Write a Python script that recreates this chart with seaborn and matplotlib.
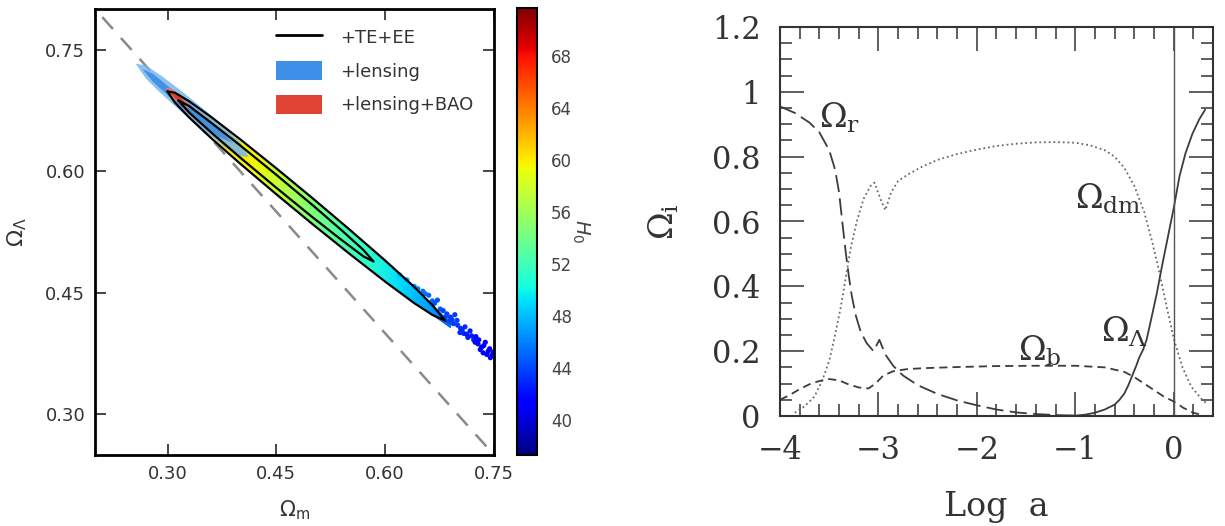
import numpy as np
import matplotlib
matplotlib.use("Agg")
import matplotlib.pyplot as plt
from matplotlib.lines import Line2D
from matplotlib.patches import Patch
import seaborn as sns

# ---------------- left panel data ----------------
flat_om = [0.21, 0.75]
flat_ol = [0.79, 0.25]

# coloured sample band, H0 along the degeneracy
band_om = [0.30, 0.34, 0.38, 0.42, 0.46, 0.50, 0.54, 0.58, 0.62, 0.66, 0.69]
band_ol = [0.698, 0.669, 0.639, 0.610, 0.580, 0.551, 0.521, 0.492, 0.462, 0.433, 0.410]
band_half = [0.004, 0.008, 0.011, 0.013, 0.014, 0.014, 0.013, 0.012, 0.010, 0.007, 0.003]
band_h0 = [64, 62, 60.5, 59.5, 57, 54.5, 52.5, 51, 49, 47, 45]

# scattered tail of samples
tail_om = [0.620, 0.630, 0.640, 0.645, 0.652, 0.655, 0.660, 0.665, 0.668, 0.672, 0.676,
           0.680, 0.683, 0.685, 0.688, 0.690, 0.692, 0.694, 0.696, 0.699, 0.700, 0.703,
           0.704, 0.706, 0.708, 0.710, 0.712, 0.714, 0.717, 0.719, 0.722, 0.724, 0.725,
           0.728, 0.729, 0.731, 0.733, 0.735, 0.736, 0.738, 0.740, 0.742, 0.744, 0.745,
           0.747, 0.749]
tail_ol = [0.472, 0.466, 0.458, 0.455, 0.452, 0.449, 0.447, 0.440, 0.437, 0.441, 0.430,
           0.428, 0.420, 0.424, 0.415, 0.420, 0.417, 0.412, 0.423, 0.416, 0.410, 0.401,
           0.406, 0.404, 0.400, 0.408, 0.399, 0.395, 0.403, 0.397, 0.392, 0.389, 0.396,
           0.387, 0.392, 0.380, 0.383, 0.376, 0.385, 0.389, 0.374, 0.378, 0.381, 0.370,
           0.373, 0.377]
tail_h0 = [48, 47.5, 46.5, 46, 45.5, 45.5, 45, 45, 44.5, 44.5, 44.5,
           44, 44, 44, 44, 43.5, 43.5, 43.5, 43.5, 43.5, 43.5, 43,
           43, 43, 43, 43, 42.5, 42.5, 42.5, 42.5, 42.5, 42, 42,
           42, 42, 42, 41.5, 41.5, 41.5, 41.5, 41.5, 41, 41, 41,
           41, 41]

# +TE+EE contours (upper / lower edge)
outer_om = [0.300, 0.31, 0.33, 0.36, 0.40, 0.45, 0.50, 0.55, 0.60, 0.64, 0.665, 0.683]
outer_hi = [0.6982, 0.6968, 0.6861, 0.6669, 0.6394, 0.6035, 0.5666, 0.5287, 0.4898, 0.4573, 0.4348, 0.4155]
outer_lo = [0.6982, 0.6848, 0.6661, 0.6409, 0.6094, 0.5715, 0.5346, 0.4987, 0.4638, 0.4373, 0.4228, 0.4155]
inner_om = [0.315, 0.33, 0.36, 0.40, 0.45, 0.50, 0.54, 0.57, 0.584]
inner_hi = [0.6871, 0.6801, 0.6599, 0.6319, 0.5955, 0.5581, 0.5271, 0.5029, 0.4886]
inner_lo = [0.6871, 0.6721, 0.6479, 0.6169, 0.5795, 0.5431, 0.5151, 0.4949, 0.4886]

# +lensing contours
lens_om = [0.256, 0.27, 0.29, 0.32, 0.35, 0.38, 0.40, 0.412]
lens_hi = [0.7327, 0.7303, 0.7186, 0.6984, 0.6763, 0.6532, 0.6354, 0.6176]
lens_lo = [0.7327, 0.7143, 0.6966, 0.6724, 0.6503, 0.6292, 0.6184, 0.6176]
lens_in_om = [0.265, 0.28, 0.31, 0.34, 0.37, 0.39]
lens_in_hi = [0.7261, 0.7200, 0.6979, 0.6757, 0.6526, 0.6348]
lens_in_lo = [0.7261, 0.7100, 0.6859, 0.6637, 0.6426, 0.6348]

# +lensing+BAO contours
bao_om = [0.297, 0.305, 0.315, 0.325, 0.333]
bao_hi = [0.7030, 0.7021, 0.6957, 0.6864, 0.6765]
bao_lo = [0.7030, 0.6921, 0.6837, 0.6784, 0.6765]
bao_in_om = [0.300, 0.310, 0.320, 0.327]
bao_in_hi = [0.7008, 0.6964, 0.6891, 0.6809]
bao_in_lo = [0.7008, 0.6904, 0.6831, 0.6809]

h0_ticks = [40, 44, 48, 52, 56, 60, 64, 68]
h0_min, h0_max = 37.3, 71.7
left_ticks = [0.30, 0.45, 0.60, 0.75]
legend_labels = ['+TE+EE', '+lensing', '+lensing+BAO']

# ---------------- right panel data ----------------
r_x = [-4.0, -3.85, -3.70, -3.60, -3.50, -3.44, -3.40, -3.36, -3.33, -3.30, -3.27, -3.23,
       -3.18, -3.12, -3.05, -2.99, -2.93, -2.85, -2.75, -2.60, -2.40, -2.20, -2.00, -1.80,
       -1.60, -1.40, -1.20, -1.00]
r_y = [0.955, 0.935, 0.905, 0.875, 0.82, 0.76, 0.69, 0.58, 0.50, 0.43, 0.37, 0.31,
       0.26, 0.225, 0.20, 0.235, 0.19, 0.155, 0.125, 0.095, 0.068, 0.048, 0.033, 0.02,
       0.011, 0.006, 0.003, 0.001]
dm_x = [-3.85, -3.75, -3.65, -3.57, -3.50, -3.44, -3.38, -3.33, -3.28, -3.22, -3.15, -3.08,
        -3.04, -2.98, -2.93, -2.87, -2.80, -2.70, -2.55, -2.40, -2.20, -2.00, -1.80, -1.60,
        -1.40, -1.20, -1.00, -0.85, -0.70, -0.60, -0.50, -0.40, -0.30, -0.22, -0.15, -0.08,
        0.00, 0.09, 0.18, 0.29, 0.33]
dm_y = [0.01, 0.03, 0.06, 0.11, 0.17, 0.25, 0.34, 0.43, 0.52, 0.60, 0.67, 0.71,
        0.72, 0.67, 0.635, 0.69, 0.725, 0.745, 0.77, 0.79, 0.808, 0.822, 0.833, 0.84,
        0.844, 0.845, 0.843, 0.835, 0.82, 0.80, 0.765, 0.71, 0.63, 0.54, 0.45, 0.35,
        0.24, 0.15, 0.09, 0.05, 0.04]
b_x = [-4.0, -3.9, -3.8, -3.7, -3.6, -3.5, -3.4, -3.3, -3.2, -3.1, -3.03, -2.95, -2.85,
       -2.7, -2.5, -2.2, -1.8, -1.4, -1.0, -0.7, -0.5, -0.4, -0.3, -0.2, -0.1, 0.0, 0.1,
       0.2, 0.3]
b_y = [0.05, 0.065, 0.083, 0.098, 0.108, 0.114, 0.11, 0.097, 0.088, 0.085, 0.10, 0.125, 0.138,
       0.145, 0.148, 0.151, 0.154, 0.155, 0.155, 0.15, 0.136, 0.12, 0.10, 0.08, 0.06, 0.045, 0.025,
       0.01, 0.002]
lam_x = [-2.0, -1.6, -1.2, -1.0, -0.9, -0.8, -0.7, -0.6, -0.55, -0.5, -0.46, -0.42, -0.38,
         -0.35, -0.31, -0.275, -0.22, -0.17, -0.12, -0.06, 0.0, 0.06, 0.12, 0.19, 0.26, 0.32]
lam_y = [0.0, 0.0, 0.0, 0.001, 0.004, 0.01, 0.02, 0.035, 0.05, 0.07, 0.095, 0.125, 0.155,
         0.18, 0.205, 0.235, 0.31, 0.38, 0.46, 0.55, 0.64, 0.74, 0.81, 0.87, 0.915, 0.945]
right_yticks = [0, 0.2, 0.4, 0.6, 0.8, 1.0, 1.2]
right_ylabels = ['0', '0.2', '0.4', '0.6', '0.8', '1', '1.2']
right_xticks = [-4, -3, -2, -1, 0]

# ---------------- figure ----------------
sns.set_style('ticks')
plt.rcParams['font.family'] = ['DejaVu Sans']
jet = matplotlib.colormaps['jet']

fig = plt.figure(figsize=(12.25, 5.26), dpi=100)
ax = fig.add_axes([95 / 1225, 71 / 526, 399 / 1225, 446 / 526])
cax = fig.add_axes([517 / 1225, 71 / 526, 20 / 1225, 447 / 526])
ax2 = fig.add_axes([780 / 1225, 110 / 526, 433 / 1225, 389 / 526])

# degeneracy line
ax.plot(flat_om, flat_ol, color='#8a8a8a', lw=1.8, dashes=(6.4, 4.8), zorder=1)

# coloured band through a gouraud triangulation of the band edges
n = len(band_om)
vx = np.concatenate([band_om, band_om])
vy = np.concatenate([np.array(band_ol) + np.array(band_half),
                     np.array(band_ol) - np.array(band_half)])
vc = np.concatenate([band_h0, band_h0])
tris = []
for i in range(n - 1):
    tris.append([i, i + 1, n + i])
    tris.append([i + 1, n + i + 1, n + i])
mappable = ax.tripcolor(vx, vy, tris, vc, shading='gouraud', cmap=jet,
                        vmin=h0_min, vmax=h0_max, zorder=2)

sns.scatterplot(x=tail_om, y=tail_ol, hue=tail_h0, palette=jet,
                hue_norm=(h0_min, h0_max), s=14, linewidth=0, legend=False,
                ax=ax, zorder=2)


def closed(om, hi, lo):
    xs = list(om) + list(om[::-1])
    ys = list(hi) + list(lo[::-1])
    return xs, ys


# lensing (blue) and lensing+BAO (red) filled contours
xs, ys = closed(lens_om, lens_hi, lens_lo)
ax.fill(xs, ys, color='#79b6ef', alpha=0.85, lw=0, zorder=3)
xs, ys = closed(lens_in_om, lens_in_hi, lens_in_lo)
ax.fill(xs, ys, color='#3b8de4', alpha=0.9, lw=0, zorder=3)
xs, ys = closed(bao_om, bao_hi, bao_lo)
ax.fill(xs, ys, color='#ea7a66', alpha=0.9, lw=0, zorder=4)
xs, ys = closed(bao_in_om, bao_in_hi, bao_in_lo)
ax.fill(xs, ys, color='#d93a2b', lw=0, zorder=4)

# +TE+EE line contours
xs, ys = closed(outer_om, outer_hi, outer_lo)
ax.plot(xs, ys, color='black', lw=1.6, zorder=5)
xs, ys = closed(inner_om, inner_hi, inner_lo)
ax.plot(xs, ys, color='black', lw=1.6, zorder=5)

ax.set_xlim(0.20, 0.75)
ax.set_ylim(0.25, 0.80)
ax.set_xticks(left_ticks)
ax.set_yticks(left_ticks)
ax.set_xticklabels([f'{t:.2f}' for t in left_ticks])
ax.set_yticklabels([f'{t:.2f}' for t in left_ticks])
ax.tick_params(direction='in', length=8, width=1.2, top=True, right=True,
               labelsize=13, labelcolor='#333333', pad=7)
for sp in ax.spines.values():
    sp.set_linewidth(2.0)
    sp.set_color('black')
ax.set_xlabel(r'$\Omega_{\rm m}$', fontsize=15, color='#333333', labelpad=11,
              math_fontfamily='dejavusans')
ax.set_ylabel(r'$\Omega_\Lambda$', fontsize=16, color='#333333', labelpad=12,
              math_fontfamily='dejavusans')

handles = [Line2D([], [], color='black', lw=2),
           Patch(facecolor='#3d8fe8', edgecolor='none'),
           Patch(facecolor='#e04434', edgecolor='none')]
ax.legend(handles, legend_labels, loc='upper right', bbox_to_anchor=(0.99, 0.995),
          frameon=False, fontsize=13, handlelength=2.6, handleheight=1.2,
          handletextpad=1.0, labelspacing=0.8, labelcolor='#333333')

cbar = fig.colorbar(mappable, cax=cax, ticks=h0_ticks)
cbar.outline.set_linewidth(1.5)
cbar.outline.set_edgecolor('black')
cax.tick_params(direction='in', length=7, width=1.2, color='#222222',
                labelsize=12, labelcolor='#444444', pad=10)
cbar.set_label(r'$H_0$', rotation=270, fontsize=14, color='#444444', labelpad=14,
               math_fontfamily='dejavusans')

# ---------------- right panel ----------------
line_col = '#3c3c3c'
sns.lineplot(x=r_x, y=r_y, ax=ax2, color=line_col, lw=1.3, linestyle=(0, (9.5, 3.5)))
sns.lineplot(x=dm_x, y=dm_y, ax=ax2, color='#6a6a6a', lw=1.3, linestyle=(0, (1, 1.6)))
sns.lineplot(x=b_x, y=b_y, ax=ax2, color=line_col, lw=1.3, linestyle=(0, (4.5, 2.8)))
sns.lineplot(x=lam_x, y=lam_y, ax=ax2, color=line_col, lw=1.3)
ax2.axvline(0, color='#555555', lw=1.0)

serif = ['DejaVu Serif']
txt = dict(fontsize=24, family=serif, math_fontfamily='dejavuserif', color='#333333',
           ha='left', va='center')
ax2.text(-3.6, 0.92, r'$\Omega_{\rm r}$', **txt)
ax2.text(-1.0, 0.67, r'$\Omega_{\rm dm}$', **txt)
ax2.text(-1.58, 0.20, r'$\Omega_{\rm b}$', **txt)
ax2.text(-0.74, 0.26, r'$\Omega_\Lambda$', **txt)

ax2.set_xlim(-4, 0.4)
ax2.set_ylim(0, 1.2)
ax2.set_xticks(right_xticks)
ax2.set_yticks(right_yticks)
ax2.set_yticklabels(right_ylabels)
ax2.xaxis.set_minor_locator(plt.MultipleLocator(0.2))
ax2.yaxis.set_minor_locator(plt.MultipleLocator(0.05))
ax2.tick_params(which='major', direction='in', length=17, width=1.1, top=True, right=True,
                labelsize=22, labelcolor='#333333', color='#333333')
ax2.tick_params(which='minor', direction='in', length=8.5, width=1.1, top=True, right=True,
                color='#333333')
ax2.tick_params(axis='y', which='major', pad=14)
ax2.tick_params(axis='x', which='major', pad=14)
for lab in ax2.get_xticklabels() + ax2.get_yticklabels():
    lab.set_family(serif)
for sp in ax2.spines.values():
    sp.set_linewidth(1.5)
    sp.set_color('#333333')
ax2.set_xlabel('Log  a', fontsize=24, family=serif, color='#333333', labelpad=18)
ax2.set_ylabel(r'$\Omega_{\rm i}$', fontsize=24, family=serif, color='#333333',
               labelpad=22, math_fontfamily='dejavuserif')

fig.savefig('out.png', dpi=100)
